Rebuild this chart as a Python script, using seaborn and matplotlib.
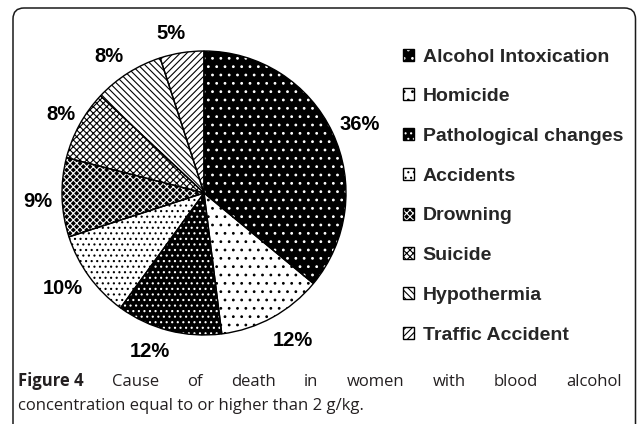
import numpy as np
import matplotlib
matplotlib.use("Agg")
import matplotlib.pyplot as plt
from matplotlib.patches import Patch, FancyBboxPatch
from matplotlib.transforms import IdentityTransform
import seaborn as sns

# data
causes = ["Alcohol Intoxication", "Homicide", "Pathological changes", "Accidents",
          "Drowning", "Suicide", "Hypothermia", "Traffic Accident"]
shares = [36, 12, 12, 10, 9, 8, 8, 5]

# black & white print style: face colour, hatch colour and hatch per slice
face_colors = ["black", "white", "black", "white", "black", "white", "white", "white"]
hatch_colors = ["white", "black", "white", "black", "white", "black", "black", "black"]
hatches = ["..", "..", "...", "...", "xxxxx", "xxxxx", "\\\\\\\\\\", "/////"]

# label placement (distance in radii, angular nudge in degrees)
label_dist = [1.20, 1.215, 1.18, 1.20, 1.17, 1.15, 1.17, 1.15]
label_shift = [-1.5, 2.2, -4.4, -1.8, 1, 0, 2.3, 2.7]

caption_bold = "Figure 4"
caption_line1 = "Cause of death in women with blood alcohol"
caption_line2 = "concentration equal to or higher than 2 g/kg."

sns.set_theme(style="white")
plt.rcParams["hatch.linewidth"] = 0.8
LABEL_FONT = ["Liberation Sans", "DejaVu Sans"]
CAP_FONT = ["Open Sans", "DejaVu Sans"]

W, H = 637, 424
fig = plt.figure(figsize=(W / 100, H / 100), dpi=100)
fig.patch.set_facecolor("white")

cx, cy, r = 204, 193, 142
ax = fig.add_axes([(cx - r) / W, (H - cy - r) / H, 2 * r / W, 2 * r / H])

# fill + hatch pass (hatch colour comes from the edge colour)
wedges, _ = ax.pie(shares, startangle=90, counterclock=False,
                   wedgeprops=dict(linewidth=0))
for w, fc, hc, h in zip(wedges, face_colors, hatch_colors, hatches):
    w.set_facecolor(fc)
    w.set_edgecolor(hc)
    w.set_hatch(h)
# outline pass
ax.pie(shares, startangle=90, counterclock=False,
       wedgeprops=dict(facecolor="none", edgecolor="black", linewidth=1.0))

for w, val, d, s in zip(wedges, shares, label_dist, label_shift):
    mid = np.deg2rad((w.theta1 + w.theta2) / 2 + s)
    ax.text(d * np.cos(mid), d * np.sin(mid), f"{val}%", ha="center", va="center",
            fontsize=14.5, fontweight="bold", family=LABEL_FONT, color="black")

ax.set_xlim(-1, 1)
ax.set_ylim(-1, 1)
ax.set_aspect("equal")
ax.axis("off")

handles = [(Patch(facecolor=fc, edgecolor=hc, hatch=h, linewidth=0),
            Patch(facecolor="none", edgecolor="black", linewidth=1.0))
           for fc, hc, h in zip(face_colors, hatch_colors, hatches)]
fig.legend(handles, causes, loc="upper left", bbox_to_anchor=(403 / W, 1 - 48.5 / H),
           frameon=False, borderpad=0, borderaxespad=0, handlelength=0.57,
           handleheight=0.57, handletextpad=0.45, labelspacing=1.17,
           prop=dict(family=LABEL_FONT, weight="bold", size=14))

# caption, first line justified across the box
renderer = fig.canvas.get_renderer()
cap_size = 12
left, right = 18, 622
words = [(caption_bold, "bold")] + [(wd, "normal") for wd in caption_line1.split()]
texts = []
for wd, wt in words:
    t = fig.text(0, 0, wd, fontsize=cap_size, fontweight=wt, family=CAP_FONT,
                 color="#231f20", va="baseline", transform=IdentityTransform())
    texts.append(t)
widths = [t.get_window_extent(renderer).width for t in texts]
gap = (right - left - sum(widths)) / (len(texts) - 1)
x = left
for t, wdt in zip(texts, widths):
    t.set_position((x, H - 386))
    x += wdt + gap
fig.text(left, H - 410, caption_line2, fontsize=cap_size, family=CAP_FONT,
         color="#231f20", va="baseline", transform=IdentityTransform())

# rounded frame, open at the bottom
frame = FancyBboxPatch((13, -30), 622.5, H - 8 + 30,
                       boxstyle="round,pad=0,rounding_size=11",
                       facecolor="none", edgecolor="#1a1a1a", linewidth=1.1,
                       transform=IdentityTransform())
fig.add_artist(frame)

fig.savefig("out.png", dpi=100)
